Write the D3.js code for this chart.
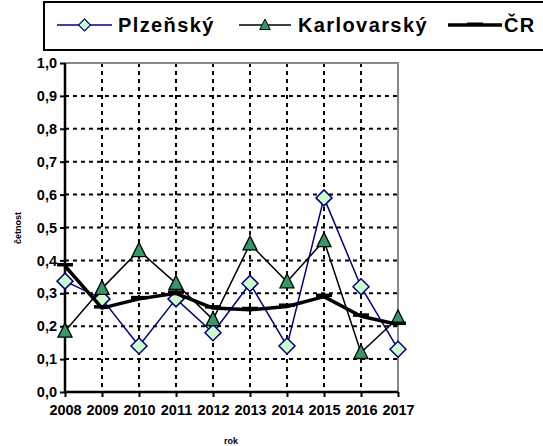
<!DOCTYPE html>
<html>
<head>
<meta charset="utf-8">
<script src="https://cdn.jsdelivr.net/npm/d3@7"></script>
<style>
  body { margin: 0; background: #fff; }
  svg { display: block; }
  svg text { font-family: Arial, "Liberation Sans", sans-serif; }
</style>
</head>
<body>
<svg id="chart" width="543" height="446"></svg>
<script>
// data
const years = ["2008", "2009", "2010", "2011", "2012", "2013", "2014", "2015", "2016", "2017"];
const plzensky = [0.337, 0.283, 0.14, 0.283, 0.18, 0.33, 0.14, 0.59, 0.32, 0.13];
const karlovarsky = [0.185, 0.315, 0.43, 0.33, 0.22, 0.45, 0.335, 0.46, 0.12, 0.225];
const cr = [0.383, 0.255, 0.283, 0.30, 0.255, 0.25, 0.26, 0.29, 0.23, 0.205];
const yTicks = [0, 0.1, 0.2, 0.3, 0.4, 0.5, 0.6, 0.7, 0.8, 0.9, 1.0];

const series = [
  { name: "Plzeňský", values: plzensky, line: "#000080", width: 1.5, marker: "diamond" },
  { name: "Karlovarský", values: karlovarsky, line: "#000", width: 1.5, marker: "triangle" },
  { name: "ČR", values: cr, line: "#000", width: 3.5, marker: "dash" }
];

const svg = d3.select("#chart");
const plot = { left: 65, right: 398, top: 63, bottom: 392 };

const x = d3.scalePoint().domain(years).range([plot.left, plot.right]);
const y = d3.scaleLinear().domain([0, 1]).range([plot.bottom, plot.top]);

// grid
const g = svg.append("g");
g.selectAll("line.hgrid")
  .data(yTicks.filter(d => d > 0))
  .join("line")
  .attr("x1", plot.left).attr("x2", plot.right)
  .attr("y1", d => y(d)).attr("y2", d => y(d))
  .attr("stroke", "#000").attr("stroke-width", 2)
  .attr("stroke-dasharray", "4,4");

g.selectAll("line.vgrid")
  .data(years.slice(1, -1))
  .join("line")
  .attr("x1", d => x(d)).attr("x2", d => x(d))
  .attr("y1", plot.top).attr("y2", plot.bottom)
  .attr("stroke", "#000").attr("stroke-width", 2)
  .attr("stroke-dasharray", "4,4");

// plot border (top, right)
svg.append("path")
  .attr("d", `M${plot.left},${plot.top}H${plot.right}V${plot.bottom}`)
  .attr("fill", "none").attr("stroke", "#888").attr("stroke-width", 2);

// axes
const yAxis = svg.append("g")
  .attr("transform", `translate(${plot.left},0)`)
  .call(d3.axisLeft(y).tickValues(yTicks).tickSize(5).tickPadding(3)
    .tickFormat(d => d3.format(".1f")(d).replace(".", ",")));
const xAxis = svg.append("g")
  .attr("transform", `translate(0,${plot.bottom})`)
  .call(d3.axisBottom(x).tickSize(5).tickPadding(8));

[yAxis, xAxis].forEach(a => {
  a.select(".domain").attr("stroke", "#000").attr("stroke-width", 2.5);
  a.selectAll(".tick line").attr("stroke", "#000").attr("stroke-width", 2);
  a.selectAll(".tick text")
    .attr("fill", "#000")
    .attr("font-size", 14.5)
    .attr("font-weight", "bold");
});
yAxis.select(".domain").attr("d", `M0,${plot.top}V${plot.bottom}`);
xAxis.select(".domain").attr("d", `M${plot.left},0H${plot.right}`);

// axis titles
svg.append("text")
  .attr("transform", "translate(21,228) rotate(-90)")
  .attr("text-anchor", "middle")
  .attr("font-size", 9).attr("font-weight", "bold")
  .text("četnost");
svg.append("text")
  .attr("x", 231).attr("y", 444)
  .attr("text-anchor", "middle")
  .attr("font-size", 9).attr("font-weight", "bold")
  .text("rok");

function drawMarker(sel, type) {
  if (type === "diamond") {
    sel.append("path")
      .attr("d", "M0,-8L8,0L0,8L-8,0Z")
      .attr("fill", "#ccffcc").attr("stroke", "#000080").attr("stroke-width", 1.5);
  } else if (type === "triangle") {
    sel.append("path")
      .attr("d", "M0,-8L7,6L-7,6Z")
      .attr("fill", "#339966").attr("stroke", "#000").attr("stroke-width", 1.3);
  } else {
    sel.append("rect")
      .attr("x", -8).attr("y", -3).attr("width", 16).attr("height", 3.5)
      .attr("fill", "#000");
  }
}

const line = d3.line().x((d, i) => x(years[i])).y(d => y(d));

series.forEach(s => {
  svg.append("path")
    .attr("d", line(s.values))
    .attr("fill", "none")
    .attr("stroke", s.line)
    .attr("stroke-width", s.width)
    .attr("stroke-linejoin", "round");
  svg.append("g").selectAll("g")
    .data(s.values)
    .join("g")
    .attr("transform", (d, i) => `translate(${x(years[i])},${y(d)})`)
    .each(function () { drawMarker(d3.select(this), s.marker); });
});

// legend
const legend = svg.append("g");
legend.append("rect")
  .attr("x", 44).attr("y", 2).attr("width", 520).attr("height", 48)
  .attr("fill", "#fff").attr("stroke", "#000").attr("stroke-width", 2);

const legendPos = [
  { x1: 57, x2: 112, tx: 118 },
  { x1: 239, x2: 291, tx: 298 },
  { x1: 448, x2: 502, tx: 504 }
];
series.forEach((s, i) => {
  const p = legendPos[i];
  const ly = 25;
  legend.append("line")
    .attr("x1", p.x1).attr("x2", p.x2).attr("y1", ly).attr("y2", ly)
    .attr("stroke", s.line).attr("stroke-width", s.width);
  const m = legend.append("g")
    .attr("transform", `translate(${(p.x1 + p.x2) / 2},${ly})`);
  if (s.marker === "dash") {
    m.append("rect").attr("x", -8).attr("y", -2.5).attr("width", 16).attr("height", 3)
      .attr("fill", "#000");
  } else {
    drawMarker(m, s.marker);
    m.attr("transform", `translate(${(p.x1 + p.x2) / 2},${ly}) scale(0.75)`);
  }
  legend.append("text")
    .attr("x", p.tx).attr("y", ly + 7)
    .attr("font-size", 20).attr("font-weight", "bold")
    .attr("letter-spacing", 1.4)
    .text(s.name);
});
</script>
</body>
</html>
